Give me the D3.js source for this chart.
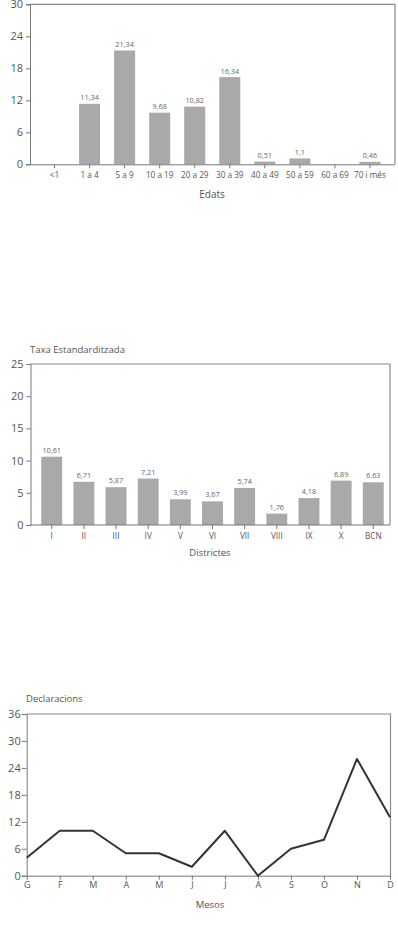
<!doctype html>
<html>
<head>
<meta charset="utf8">
<script src="https://d3js.org/d3.v7.min.js"></script>
<style>
  body { margin: 0; background: #fff; }
  text { font-family: "Open Sans", "DejaVu Sans", sans-serif; fill: #555; }
  .frame { fill: none; stroke: #8a8a8a; stroke-width: 1.2; }
  .bar { fill: #a9a9a9; }
  .val { font-size: 7.3px; text-anchor: middle; fill: #666; }
  .axis path, .axis line { stroke: #777; }
  .axis text { fill: #555; }
</style>
</head>
<body>
<svg width="398" height="941"></svg>
<script>
// chart 1: edats
var edats = ["<1", "1 a 4", "5 a 9", "10 a 19", "20 a 29", "30 a 39", "40 a 49", "50 a 59", "60 a 69", "70 i més"];
var edatsVals = [null, 11.34, 21.34, 9.68, 10.82, 16.34, 0.51, 1.1, null, 0.46];
var edatsTicks = [0, 6, 12, 18, 24, 30];

// chart 2: districtes
var districtes = ["I", "II", "III", "IV", "V", "VI", "VII", "VIII", "IX", "X", "BCN"];
var districtesVals = [10.61, 6.71, 5.87, 7.21, 3.99, 3.67, 5.74, 1.76, 4.18, 6.89, 6.63];
var districtesLabels = ["10,61", "6,71", "5,87", "7,21", "3,99", "3,67", "5,74", "1,76", "4,18", "6.89", "6.63"];
var districtesTicks = [0, 5, 10, 15, 20, 25];

// chart 3: mesos
var mesos = ["G", "F", "M", "A", "M", "J", "J", "A", "S", "O", "N", "D"];
var declaracions = [4, 10, 10, 5, 5, 2, 10, 0, 6, 8, 26, 13];
var mesosTicks = [0, 6, 12, 18, 24, 30, 36];

var svg = d3.select("svg");
var comma = function(v) { return String(v).replace(".", ","); };

// ---------- chart 1 ----------
var g1 = svg.append("g");
var x1 = d3.scaleBand().domain(edats).range([30, 394.5]).padding(0.4);
var y1 = d3.scaleLinear().domain([0, 30]).range([164.3, 4.3]);

g1.append("path").attr("class", "frame")
  .attr("d", "M30," + y1(30) + "H395V" + y1(0));

g1.selectAll(".bar").data(edats).enter().append("rect")
  .attr("class", "bar")
  .attr("x", function(d) { return x1(d); })
  .attr("width", x1.bandwidth())
  .attr("y", function(d, i) { return y1(edatsVals[i] || 0); })
  .attr("height", function(d, i) { return y1(0) - y1(edatsVals[i] || 0); })
  .style("display", function(d, i) { return edatsVals[i] == null ? "none" : null; });

g1.selectAll(".val").data(edats).enter().append("text")
  .attr("class", "val")
  .attr("x", function(d) { return x1(d) + x1.bandwidth() / 2; })
  .attr("y", function(d, i) { return y1(edatsVals[i] || 0) - 3.5; })
  .text(function(d, i) { return edatsVals[i] == null ? "" : comma(edatsVals[i]); });

g1.append("g").attr("class", "axis")
  .attr("transform", "translate(30,0)")
  .call(d3.axisLeft(y1).tickValues(edatsTicks).tickSize(4).tickPadding(3))
  .call(function(a) { a.selectAll("text").style("font-size", "11px"); });

g1.append("g").attr("class", "axis")
  .attr("transform", "translate(0," + y1(0) + ")")
  .call(d3.axisBottom(x1).tickSize(4).tickPadding(4).tickSizeOuter(0))
  .call(function(a) { a.selectAll("text").style("font-size", "8.2px"); });

g1.append("text").attr("x", 212).attr("y", 198)
  .attr("text-anchor", "middle").style("font-size", "10px").text("Edats");

// ---------- chart 2 ----------
var g2 = svg.append("g");
var x2 = d3.scaleBand().domain(districtes).range([30, 395]).padding(0.35);
var y2 = d3.scaleLinear().domain([0, 25]).range([525, 364]);

g2.append("path").attr("class", "frame")
  .attr("d", "M30.5," + y2(25) + "H390V" + y2(0));

g2.selectAll(".bar").data(districtes).enter().append("rect")
  .attr("class", "bar")
  .attr("x", function(d) { return x2(d); })
  .attr("width", x2.bandwidth())
  .attr("y", function(d, i) { return y2(districtesVals[i]); })
  .attr("height", function(d, i) { return y2(0) - y2(districtesVals[i]); });

g2.selectAll(".val").data(districtes).enter().append("text")
  .attr("class", "val")
  .attr("x", function(d) { return x2(d) + x2.bandwidth() / 2; })
  .attr("y", function(d, i) { return y2(districtesVals[i]) - 4; })
  .text(function(d, i) { return districtesLabels[i]; });

g2.append("g").attr("class", "axis")
  .attr("transform", "translate(30.5,0)")
  .call(d3.axisLeft(y2).tickValues(districtesTicks).tickSize(4).tickPadding(3))
  .call(function(a) { a.selectAll("text").style("font-size", "11px"); });

g2.append("g").attr("class", "axis")
  .attr("transform", "translate(0," + y2(0) + ")")
  .call(d3.axisBottom(x2).tickSize(4).tickPadding(4).tickSizeOuter(0))
  .call(function(a) {
    a.select(".domain").attr("d", "M30.5,0H390");
    a.selectAll("text").style("font-size", "8.2px");
  });

g2.append("text").attr("x", 30).attr("y", 353)
  .style("font-size", "9.5px").text("Taxa Estandarditzada");
g2.append("text").attr("x", 210).attr("y", 556)
  .attr("text-anchor", "middle").style("font-size", "9.5px").text("Districtes");

// ---------- chart 3 ----------
var g3 = svg.append("g");
var x3 = d3.scalePoint().domain(d3.range(mesos.length)).range([26.7, 390]);
var y3 = d3.scaleLinear().domain([0, 36]).range([875.7, 714]);

g3.append("path").attr("class", "frame")
  .attr("d", "M26.7," + y3(36) + "H390.5V" + y3(0));

g3.append("g").attr("class", "axis")
  .attr("transform", "translate(26.7,0)")
  .call(d3.axisLeft(y3).tickValues(mesosTicks).tickSize(5).tickPadding(1))
  .call(function(a) { a.selectAll("text").style("font-size", "11px"); });

g3.append("g").attr("class", "axis")
  .attr("transform", "translate(0," + y3(0) + ")")
  .call(d3.axisBottom(x3).tickSize(4).tickPadding(2).tickSizeOuter(0)
        .tickFormat(function(i) { return mesos[i]; }))
  .call(function(a) { a.selectAll("text").style("font-size", "9px"); });

g3.append("path")
  .datum(declaracions)
  .attr("fill", "none")
  .attr("stroke", "#333")
  .attr("stroke-width", 2)
  .attr("stroke-linejoin", "round")
  .attr("d", d3.line()
    .x(function(d, i) { return x3(i); })
    .y(function(d) { return y3(d); }));

g3.append("text").attr("x", 26).attr("y", 702)
  .style("font-size", "9.5px").text("Declaracions");
g3.append("text").attr("x", 210).attr("y", 908)
  .attr("text-anchor", "middle").style("font-size", "9.5px").text("Mesos");
</script>
</body>
</html>
